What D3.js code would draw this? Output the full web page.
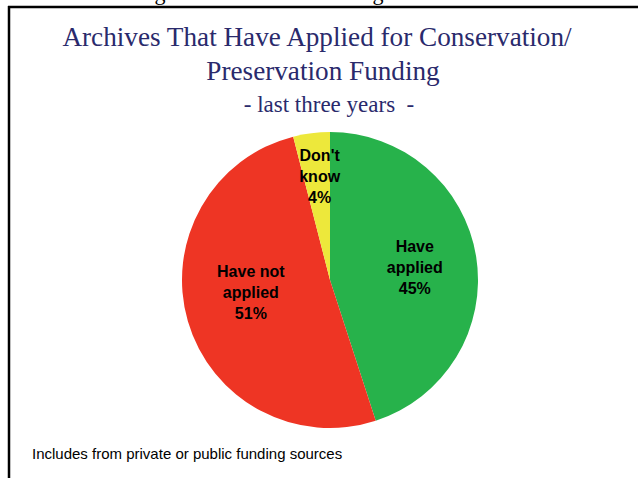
<!DOCTYPE html>
<html>
<head>
<meta charset="utf-8">
<script src="https://cdn.jsdelivr.net/npm/d3@7"></script>
<style>
  html, body { margin: 0; padding: 0; background: #fff; }
  svg { display: block; }
</style>
</head>
<body>
<svg id="chart" width="638" height="478"></svg>
<script>
// Survey responses (share of archives, %)
const categories = ["Have applied", "Have not applied", "Don't know"];
const values = [45, 51, 4];
const labelLines = [["Have", "applied", "45%"], ["Have not", "applied", "51%"], ["Don't", "know", "4%"]];
const colors = ["#27B24B", "#EE3524", "#EDE83B"];
const titleLines = ["Archives That Have Applied for Conservation/", "Preservation Funding"];
const subtitle = "- last three years  -";
const footnote = "Includes from private or public funding sources";

const svg = d3.select("#chart");
const serif = "'Liberation Serif', 'Times New Roman', serif";
const sans = "'Liberation Sans', Arial, sans-serif";

// Slide frame: top and left rules
svg.append("line").attr("x1", 8).attr("x2", 638).attr("y1", 7).attr("y2", 7)
  .attr("stroke", "#000").attr("stroke-width", 2.5);
svg.append("line").attr("x1", 9).attr("x2", 9).attr("y1", 6).attr("y2", 478)
  .attr("stroke", "#000").attr("stroke-width", 2.5);

// Descenders of the heading above the frame
svg.selectAll("text.clip").data([160, 378]).join("text")
  .attr("class", "clip")
  .attr("x", d => d).attr("y", 0)
  .attr("text-anchor", "middle")
  .attr("font-family", serif)
  .attr("font-size", 22).attr("fill", "#000")
  .text("g");

// Title
const titleX = [317, 323];
svg.selectAll("text.title").data(titleLines).join("text")
  .attr("class", "title")
  .attr("x", (d, i) => titleX[i]).attr("y", (d, i) => 46 + i * 34)
  .attr("text-anchor", "middle")
  .attr("font-family", serif).attr("font-size", 27.2)
  .attr("fill", "#2A2A6C")
  .text(d => d);
svg.append("text")
  .attr("x", 329).attr("y", 112)
  .attr("text-anchor", "middle")
  .attr("font-family", serif).attr("font-size", 23)
  .attr("fill", "#2A2A6C")
  .style("white-space", "pre")
  .text(subtitle);

// Pie
const cx = 330, cy = 280, r = 148;
const pie = d3.pie().sort(null).value(d => d)(values);
const arc = d3.arc().innerRadius(0).outerRadius(r);
const g = svg.append("g").attr("transform", `translate(${cx},${cy})`);
g.selectAll("path").data(pie).join("path")
  .attr("d", arc)
  .attr("fill", (d, i) => colors[i]);

// Slice labels: placed on a ring inside each slice, with small nudges
const labelRadius = [0.58, 0.55, 0.72];
const nudge = [[0, 0], [-1, -11], [3, 2]];
const lineH = 21;
pie.forEach((d, i) => {
  const ring = d3.arc().innerRadius(r * labelRadius[i]).outerRadius(r * labelRadius[i]);
  const [lx, ly] = ring.centroid(d);
  const x = lx + nudge[i][0], y = ly + nudge[i][1];
  const lines = labelLines[i];
  const t = g.append("text")
    .attr("text-anchor", "middle")
    .attr("font-family", sans)
    .attr("font-weight", "bold").attr("font-size", 16)
    .attr("fill", "#000");
  lines.forEach((s, j) => {
    t.append("tspan")
      .attr("x", x)
      .attr("y", y + (j - (lines.length - 1) / 2) * lineH + 6)
      .text(s);
  });
});

// Footnote
svg.append("text")
  .attr("x", 32).attr("y", 459)
  .attr("font-family", sans)
  .attr("font-size", 15).attr("fill", "#000")
  .text(footnote);
</script>
</body>
</html>
